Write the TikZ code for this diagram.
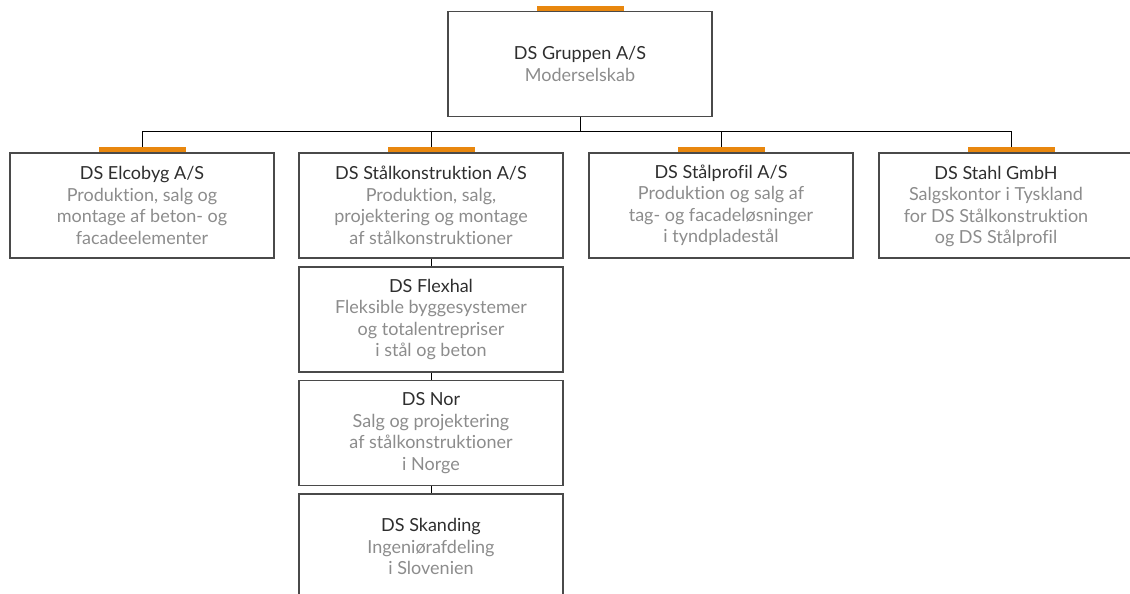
\documentclass[tikz,border=0pt]{standalone}
\usepackage{fontspec}
\setmainfont{Lato}[Ligatures=NoCommon]
\definecolor{titlec}{HTML}{2E2E2E}
\definecolor{descc}{HTML}{8C8C8C}
\definecolor{boxc}{HTML}{4A4A4A}
\definecolor{barc}{HTML}{E8870E}
\begin{document}
\begin{tikzpicture}[x=1pt,y=-1pt,
  orgbox/.style={draw=boxc, line width=1.2pt, rectangle, minimum width=264pt, minimum height=105pt,
    inner sep=0pt, align=center, text=descc, font=\fontsize{18}{21.5}\selectfont},
  orgbar/.style={fill=barc, draw=none, rectangle, minimum width=87pt, minimum height=5pt, inner sep=0pt, anchor=south},
  conn/.style={draw=black, line width=0.9pt}
]
\useasboundingbox (0,0) rectangle (1130,594);
\clip (0,0) rectangle (1130,594);

% top
\node[orgbox] (top) at (580,64) {{\color{titlec}DS Gruppen A/S}\\Moderselskab};
\node[orgbar] (topbar) at (top.north) {};

\coordinate (hl) at (0,131);

% level 1
\node[orgbox] (b1) at (142,205.5) {{\color{titlec}DS Elcobyg A/S}\\Produktion, salg og\\montage af beton- og\\facadeelementer};
\node[orgbox] (b2) at (431,205.5) {{\color{titlec}DS Stålkonstruktion A/S}\\Produktion, salg,\\projektering og montage\\af stålkonstruktioner};
\node[orgbox] (b3) at (721,205.5) {{\color{titlec}DS Stålprofil A/S}\\Produktion og salg af\\tag- og facadeløsninger\\i tyndpladestål};
\node[orgbox] (b4) at (1011,205.5) {};
\node[align=center, text=descc, font=\fontsize{18}{21.5}\selectfont, inner sep=0pt] (b4t) at (996,206.5)
  {{\color{titlec}DS Stahl GmbH}\\Salgskontor i Tyskland\\for DS Stålkonstruktion\\og DS Stålprofil};
\node[orgbar] (bar1) at (b1.north) {};
\node[orgbar] (bar2) at (b2.north) {};
\node[orgbar] (bar3) at (b3.north) {};
\node[orgbar] (bar4) at (b4.north) {};

% column 2
\node[orgbox] (c1) at (431,319.5) {{\color{titlec}DS Flexhal}\\Fleksible byggesystemer\\og totalentrepriser\\i stål og beton};
\node[orgbox] (c2) at (431,433) {{\color{titlec}DS Nor}\\Salg og projektering\\af stålkonstruktioner\\i Norge};
\node[orgbox] (c3) at (431,546.5) {{\color{titlec}DS Skanding}\\Ingeniørafdeling\\i Slovenien};

% connectors
\draw[conn] (top.south) -- (top.south |- hl);
\draw[conn] (bar1.north |- hl) -- (bar4.north |- hl);
\draw[conn] (bar1.north |- hl) -- (bar1.north);
\draw[conn] (bar2.north |- hl) -- (bar2.north);
\draw[conn] (bar3.north |- hl) -- (bar3.north);
\draw[conn] (bar4.north |- hl) -- (bar4.north);
\draw[conn] (b2.south) -- (c1.north);
\draw[conn] (c1.south) -- (c2.north);
\draw[conn] (c2.south) -- (c3.north);
\end{tikzpicture}
\end{document}
